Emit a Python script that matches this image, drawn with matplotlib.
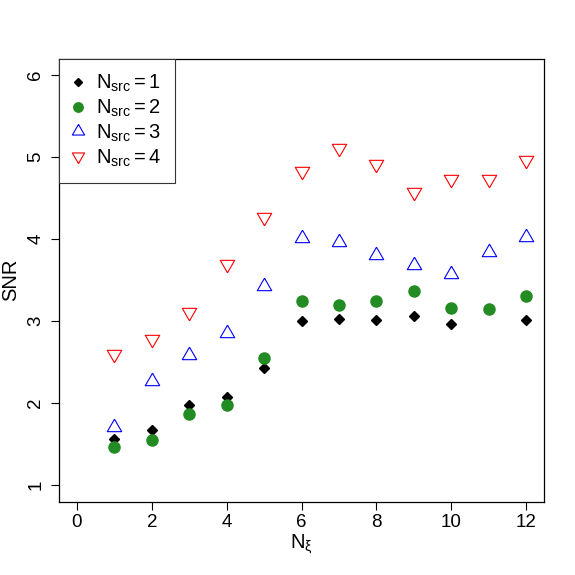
import matplotlib
matplotlib.use('Agg')
import matplotlib.pyplot as plt

plt.rcParams['font.family'] = ['Liberation Sans', 'DejaVu Sans']
plt.rcParams['mathtext.fontset'] = 'custom'
plt.rcParams['mathtext.rm'] = 'Liberation Sans'
plt.rcParams['mathtext.it'] = 'Liberation Sans'
plt.rcParams['mathtext.sf'] = 'Liberation Sans'

# N_xi values
n_xi = [1, 2, 3, 4, 5, 6, 7, 8, 9, 10, 11, 12]
# N_src = 1 has no point at N_xi = 11
n_xi_1 = [1, 2, 3, 4, 5, 6, 7, 8, 9, 10, 12]
snr_1 = [1.56, 1.67, 1.98, 2.07, 2.43, 3.00, 3.02, 3.01, 3.06, 2.97, 3.01]
snr_2 = [1.47, 1.55, 1.87, 1.98, 2.55, 3.24, 3.20, 3.24, 3.37, 3.16, 3.15, 3.30]
snr_3 = [1.71, 2.27, 2.58, 2.86, 3.43, 4.01, 3.96, 3.80, 3.68, 3.57, 3.84, 4.03]
snr_4 = [2.60, 2.78, 3.11, 3.70, 4.27, 4.83, 5.11, 4.92, 4.57, 4.73, 4.73, 4.96]

labels = [r'$\mathregular{N_{src}=%d}$' % i for i in range(1, 5)]

tri_up = [(0, 1), (-0.866, -0.5), (0.866, -0.5), (0, 1)]
tri_down = [(0, -1), (-0.866, 0.5), (0.866, 0.5), (0, -1)]

fig = plt.figure(figsize=(5.75, 5.75), dpi=100)
ax = fig.add_axes([0.1026, 0.1278, 0.8435, 0.7704])

ax.plot(n_xi_1, snr_1, linestyle='none', marker='D', ms=5.2, color='black',
        label=labels[0])
ax.plot(n_xi, snr_2, linestyle='none', marker='o', ms=8, color='#228B22',
        label=labels[1])
ax.plot(n_xi, snr_3, linestyle='none', marker=tri_up, ms=12, mfc='none',
        mec='blue', mew=0.8, label=labels[2])
ax.plot(n_xi, snr_4, linestyle='none', marker=tri_down, ms=12, mfc='none',
        mec='red', mew=0.8, label=labels[3])

ax.set_xlim(-0.48, 12.48)
ax.set_ylim(0.8, 6.2)
ax.set_xticks([0, 2, 4, 6, 8, 10, 12])
ax.set_yticks([1, 2, 3, 4, 5, 6])
ax.tick_params(direction='out', length=5.5, width=0.8, labelsize=13.5, pad=3.5)
ax.tick_params(axis='y', pad=5)
for t in ax.get_yticklabels():
    t.set_rotation(90)
    t.set_va('center')
for s in ax.spines.values():
    s.set_linewidth(0.9)

ax.set_xlabel(r'$\mathregular{N_{\xi}}$', fontsize=14.5, labelpad=1)
ax.set_ylabel('SNR', fontsize=14.5)
ax.yaxis.set_label_coords(-0.081, 0.5)

leg = ax.legend(loc='upper left', borderaxespad=0, fontsize=14.5,
                fancybox=False, framealpha=1, edgecolor='#333333',
                handlelength=0.47, handletextpad=0.66, labelspacing=0.18,
                borderpad=0.7, markerscale=0.85)
leg.get_frame().set_linewidth(0.8)

plt.savefig('out.png', dpi=100)
